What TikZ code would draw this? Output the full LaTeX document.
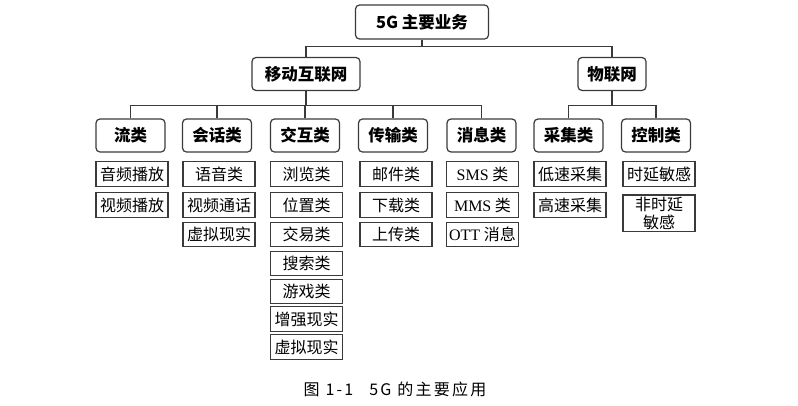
\documentclass[tikz,border=0pt]{standalone}
\usepackage{fontspec}
\setmainfont{Liberation Serif}
\newfontfamily\cjk{Noto Sans CJK SC}
\newfontfamily\capfont[LetterSpace=14]{Noto Sans CJK SC}
\usetikzlibrary{positioning,calc}
\definecolor{vszurke}{HTML}{3A3A3A}
\tikzset{
  kat/.style={draw=vszurke,rounded corners=4pt,line width=1.2pt,minimum width=69pt,
    minimum height=33pt,inner sep=0pt,font=\cjk\bfseries\fontsize{16.5}{19}\selectfont},
  lev/.style={draw=vszurke,line width=1.3pt,minimum width=72pt,minimum height=24.5pt,
    inner sep=0pt,align=center,font=\cjk\fontsize{16}{18.5}\selectfont},
  vonal/.style={draw=vszurke,line width=1.2pt},
}

\begin{document}
\begin{tikzpicture}[x=1pt,y=-1pt]
  \useasboundingbox (0,0) rectangle (798,405);
  % felso szint
  \node[kat,minimum width=133pt,minimum height=34pt] (fo) at (422,22) {5G 主要业务};
  \node[kat,minimum width=108pt] (mob) at (306,74) {移动互联网};
  \node[kat,minimum width=68pt] (iot) at (612,74) {物联网};
  \coordinate (sin0) at (0,46.7);
  \draw[vonal] (fo.south) -- (fo.south|-sin0);
  \draw[vonal] (mob.north) |- (iot.north|-sin0) -- (iot.north);
  % kategoriak
  \node[kat] (liu) at (130.5,135.5) {流类};
  \node[kat] (hui) at (217,135.5) {会话类};
  \node[kat] (jiao) at (305,135.5) {交互类};
  \node[kat] (chuan) at (393,135.5) {传输类};
  \node[kat] (xiao) at (481.5,135.5) {消息类};
  \node[kat] (cai) at (568.5,135.5) {采集类};
  \node[kat] (kong) at (656,135.5) {控制类};
  \coordinate (sin1) at (0,105.7);
  \draw[vonal] (mob.south) -- (mob.south|-sin1);
  \draw[vonal] (liu.north) |- (xiao.north|-sin1) -- (xiao.north);
  \foreach \k in {hui,jiao,chuan} \draw[vonal] (\k.north) -- (\k.north|-sin1);
  \draw[vonal] (iot.south) -- (iot.south|-sin1);
  \draw[vonal] (cai.north) |- (kong.north|-sin1) -- (kong.north);
  % levelek
  \node[lev] (liu1) at (132,174) {音频播放};
  \node[lev] (liu2) at (132,205) {视频播放};
  \node[lev] (hui1) at (219,174) {语音类};
  \node[lev] (hui2) at (219,205) {视频通话};
  \node[lev] (hui3) at (219,234.5) {虚拟现实};
  \node[lev] (jiao1) at (306.5,174) {浏览类};
  \node[lev] (jiao2) at (306.5,205) {位置类};
  \node[lev] (jiao3) at (306.5,234.5) {交易类};
  \node[lev] (jiao4) at (306.5,263.5) {搜索类};
  \node[lev] (jiao5) at (306.5,291.5) {游戏类};
  \node[lev] (jiao6) at (306.5,319) {增强现实};
  \node[lev] (jiao7) at (306.5,347) {虚拟现实};
  \node[lev] (chuan1) at (396,174) {邮件类};
  \node[lev] (chuan2) at (396,205) {下载类};
  \node[lev] (chuan3) at (396,234.5) {上传类};
  \node[lev] (xiao1) at (482.5,174) {{\rmfamily SMS} 类};
  \node[lev] (xiao2) at (482.5,205) {{\rmfamily MMS} 类};
  \node[lev] (xiao3) at (482.5,234.5) {{\rmfamily OTT} 消息};
  \node[lev] (cai1) at (570,174) {低速采集};
  \node[lev] (cai2) at (570,205) {高速采集};
  \node[lev] (kong1) at (659,174) {时延敏感};
  \node[lev,minimum height=36.5pt] (kong2) at (659,213.3) {非时延\\敏感};
  % felirat
  \node[font=\capfont\fontsize{16}{19}\selectfont] (cim) at (395,389) {图 1-1\quad 5G 的主要应用};
\end{tikzpicture}
\end{document}
